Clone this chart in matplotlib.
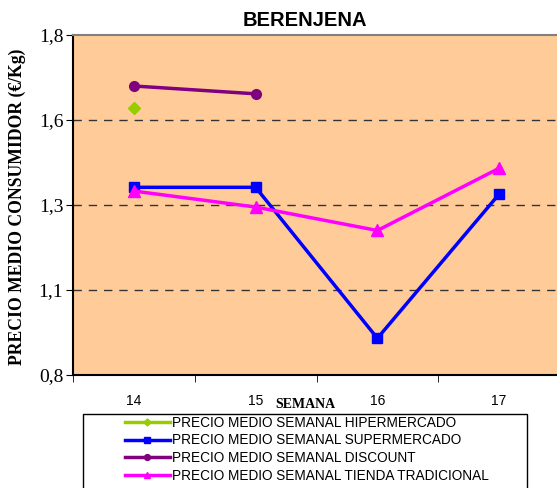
import matplotlib
matplotlib.use("Agg")
import matplotlib.pyplot as plt
from matplotlib.patches import Rectangle
import numpy as np

weeks = ["14", "15", "16", "17"]
hiper = [1.585, np.nan, np.nan, np.nan]
super_ = [1.352, 1.352, 0.908, 1.332]
discount = [1.650, 1.627, np.nan, np.nan]
tradicional = [1.341, 1.294, 1.225, 1.408]
yticks = [0.8, 1.05, 1.3, 1.55, 1.8]
ytick_labels = ["0,8", "1,1", "1,3", "1,6", "1,8"]

W, H = 557, 488
fig = plt.figure(figsize=(W / 100, H / 100), dpi=100)
ax = fig.add_axes([73 / W, 1 - 375 / H, (560 - 73) / W, (375 - 35) / H])
ax.set_facecolor("#FFCC99")

x = np.arange(len(weeks))
l1, = ax.plot(x, hiper, color="#99CC00", marker="D", markersize=6, lw=2.5,
              label="PRECIO MEDIO SEMANAL HIPERMERCADO")
l2, = ax.plot(x, super_, color="#0000FF", marker="s", markersize=7, lw=2.5,
              label="PRECIO MEDIO SEMANAL SUPERMERCADO")
l3, = ax.plot(x, discount, color="#800080", marker="o", markersize=7, lw=2.5,
              label="PRECIO MEDIO SEMANAL DISCOUNT")
l4, = ax.plot(x, tradicional, color="#FF00FF", marker="^", markersize=8, lw=2.5,
              label="PRECIO MEDIO SEMANAL TIENDA TRADICIONAL")

ax.set_xlim(-0.5, 3.5)
ax.set_ylim(0.8, 1.8)
ax.set_yticks(yticks)
ax.set_yticklabels(ytick_labels, family="Liberation Serif", fontsize=14)
for yv in yticks[1:-1]:
    ax.axhline(yv, color="#333333", lw=1, ls=(0, (6, 5)), zorder=1)

ax.set_xticks(x)
ax.set_xticklabels(weeks, family="Liberation Sans", fontsize=10)
ax.set_xticks(np.arange(-0.5, 3.6, 1.0), minor=True)
ax.tick_params(axis="x", which="major", length=0, pad=14)
ax.tick_params(axis="x", which="minor", length=5, direction="out")
ax.tick_params(axis="y", length=5, direction="out", pad=2)

for s in ["left", "bottom"]:
    ax.spines[s].set_color("black")
    ax.spines[s].set_linewidth(1.5)
ax.spines["top"].set_color("#808080")
ax.spines["top"].set_linewidth(1.5)
ax.spines["right"].set_visible(False)

fig.text(305 / W, 1 - 20 / H, "BERENJENA", ha="center", va="center",
         family="Liberation Sans", fontweight="bold", fontsize=14.5)
fig.text(17 / W, 1 - 207 / H, "PRECIO MEDIO CONSUMIDOR (€/Kg)", rotation=90,
         ha="center", va="center", family="Liberation Serif",
         fontweight="bold", fontsize=12.7)
fig.text(305 / W, 1 - 404 / H, "SEMANA", ha="center", va="center",
         family="Liberation Serif", fontweight="bold", fontsize=10)

fig.add_artist(Rectangle((83 / W, 1 - 492 / H), (527 - 83) / W, (492 - 414) / H,
                         transform=fig.transFigure, facecolor="white",
                         edgecolor="black", lw=1, zorder=2))
leg = fig.legend(handles=[l1, l2, l3, l4], loc="upper left",
                 bbox_to_anchor=(122 / W, 1 - 413 / H),
                 frameon=False,
                 prop={"family": "Liberation Sans", "size": 9.8},
                 handlelength=3.3, handletextpad=0.2, labelspacing=0.27,
                 borderpad=0.2, borderaxespad=0, markerscale=0.6)
leg.set_zorder(3)

fig.savefig("out.png", dpi=100)
